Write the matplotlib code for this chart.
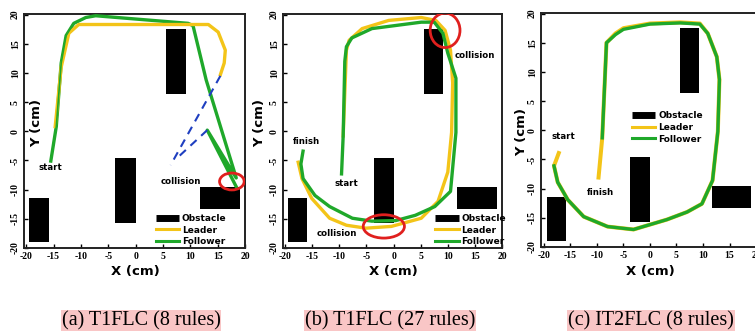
#!/usr/bin/env python3
"""Leader/follower trajectories for the three fuzzy controllers (three panels)."""
import matplotlib
matplotlib.use("Agg")
import matplotlib.pyplot as plt
from matplotlib.patches import Rectangle, Ellipse
from matplotlib.lines import Line2D

YELLOW = "#f3c418"
GREEN = "#1fa82a"
BLUE = "#1f3fc0"
RED = "#e0201e"
PINK = "#f9c6c6"

# obstacles: (x0, x1, y0, y1), same in every panel
obst_x0 = [5.6, -3.7, -19.5, 11.7]
obst_x1 = [9.2, 0.0, -15.9, 19.0]
obst_y0 = [6.4, -15.8, -19.0, -13.3]
obst_y1 = [17.6, -4.5, -11.4, -9.6]

# (a) T1FLC 8 rules
a_lead_x = [-14.7, -13.6, -12.2, -10.4, 0.0, 13.3, 15.1, 16.4, 16.2, 15.5]
a_lead_y = [0.8, 11.0, 16.8, 18.3, 18.3, 18.3, 17.0, 13.9, 11.7, 9.7]
a_foll_x = [-15.5, -14.5, -13.6, -12.7, -11.3, -9.1, -7.3, 9.6, 10.5, 12.9, 18.4, 13.1, 18.4]
a_foll_y = [-5.1, 0.8, 11.7, 16.4, 18.5, 19.5, 19.8, 18.5, 18.1, 8.8, -8.0, 0.2, -9.5]
a_dash1_x = [15.5, 6.4]
a_dash1_y = [9.5, -5.8]
a_dash2_x = [13.1, 7.8]
a_dash2_y = [0.2, -4.4]

# (b) T1FLC 27 rules
b_lead_x = [-9.3, -8.7, -8.2, -5.8, -0.9, 5.1, 7.8, 9.5, 10.5, 10.9, 10.7, 10.0, 8.2,
            5.1, -0.4, -5.1, -8.7, -11.8, -15.1, -16.9, -17.6]
b_lead_y = [-0.8, 13.9, 15.6, 17.6, 19.0, 19.5, 19.0, 17.3, 13.9, 8.3, -0.2, -7.0, -12.0,
            -14.9, -16.3, -16.6, -16.1, -14.9, -11.5, -8.1, -5.3]
b_foll_x = [-9.6, -9.3, -9.0, -8.7, -7.7, -4.0, 5.1, 7.5, 9.1, 10.0, 11.5, 11.5, 10.5,
            7.6, 4.0, 0.4, -4.0, -7.6, -11.8, -14.5, -16.7, -17.1, -16.7]
b_foll_y = [-7.3, -0.8, 12.0, 14.5, 16.0, 17.6, 18.7, 18.7, 16.8, 13.4, 9.1, -0.2, -10.3,
            -12.9, -14.4, -15.3, -15.4, -14.9, -12.9, -11.0, -8.1, -5.6, -3.4]

# (c) IT2FLC 8 rules
c_lead_x = [-9.7, -9.0, -8.2, -6.5, -5.0, 0.0, 5.7, 9.4, 10.9, 12.6, 13.1, 12.8, 11.8,
            9.8, 7.0, 3.2, -3.1, -8.0, -12.5, -15.5, -17.4, -18.1, -17.2]
c_lead_y = [-8.1, -1.3, 15.0, 16.6, 17.5, 18.3, 18.5, 18.3, 16.6, 12.6, 8.7, -0.2, -8.6,
            -12.6, -14.0, -15.3, -17.0, -16.5, -14.8, -11.9, -8.9, -6.1, -3.9]
c_foll_x = [-9.0, -8.2, -6.5, -5.0, 0.0, 5.7, 9.4, 10.9, 12.6, 13.1, 12.8, 11.8,
            9.8, 7.0, 3.2, -3.1, -8.0, -12.5, -15.5, -17.4, -18.1]
c_foll_y = [-1.3, 15.0, 16.4, 17.3, 18.2, 18.4, 18.2, 16.6, 12.6, 8.7, -0.2, -8.6,
            -12.6, -14.0, -15.3, -17.0, -16.5, -14.8, -11.9, -8.9, -6.1]

ticks = [-20, -15, -10, -5, 0, 5, 10, 15, 20]
captions = ["(a) T1FLC (8 rules)", "(b) T1FLC (27 rules)", "(c) IT2FLC (8 rules)"]

W, H = 755, 333
fig = plt.figure(figsize=(W / 100, H / 100), dpi=100)


def px_axes(left, right, top, bottom):
    return fig.add_axes([left / W, 1 - bottom / H, (right - left) / W, (bottom - top) / H])


def setup(ax, xlim=(-20.4, 19.6)):
    for x0, x1, y0, y1 in zip(obst_x0, obst_x1, obst_y0, obst_y1):
        ax.add_patch(Rectangle((x0, y0), x1 - x0, y1 - y0, color="black", lw=0, zorder=2))
    ax.set_xlim(*xlim)
    ax.set_ylim(-19.7, 20.1)
    ax.set_xticks(ticks)
    ax.set_yticks(ticks)
    ax.set_xticklabels([str(t) for t in ticks], fontsize=7, family="Liberation Serif", weight="bold")
    ax.set_yticklabels([str(t) for t in ticks], fontsize=7, family="Liberation Serif", weight="bold",
                       rotation=90, va="center")
    ax.tick_params(direction="in", length=3, width=1, pad=3)
    for s in ax.spines.values():
        s.set_linewidth(1.4)
        s.set_color("#222222")


def legend(ax, anchor):
    handles = [Line2D([], [], color="black", lw=5, solid_capstyle="butt"),
               Line2D([], [], color=YELLOW, lw=2.2),
               Line2D([], [], color=GREEN, lw=2.2)]
    leg = ax.legend(handles, ["Obstacle", "Leader", "Follower"], loc="upper left",
                    bbox_to_anchor=anchor, frameon=False, handlelength=2.6, handletextpad=0.3,
                    labelspacing=0.3, borderpad=0, prop={"size": 6.5, "weight": "bold"})
    leg.set_zorder(5)


def label(ax, x, y, s):
    ax.text(x, y, s, fontsize=6.2, weight="bold", ha="center", va="center", zorder=6)


lw = 2.4

# panel (a)
ax = px_axes(24, 245, 14, 248)
setup(ax)
ax.plot(a_foll_x, a_foll_y, color=GREEN, lw=lw, zorder=3, solid_joinstyle="round")
ax.plot(a_lead_x, a_lead_y, color=YELLOW, lw=lw, zorder=3, solid_joinstyle="round")
ax.plot(a_foll_x[:7], a_foll_y[:7], color=GREEN, lw=lw * 0.5, zorder=3)
ax.plot(a_dash1_x, a_dash1_y, color=BLUE, lw=1.5, ls=(0, (4, 3)), zorder=3)
ax.plot(a_dash2_x, a_dash2_y, color=BLUE, lw=1.5, ls=(0, (4, 3)), zorder=3)
ax.add_patch(Ellipse((17.6, -8.6), 4.5, 2.9, fill=False, ec=RED, lw=2, zorder=4))
label(ax, -15.5, -6.2, "start")
label(ax, 8.3, -8.6, "collision")
legend(ax, (0.575, 0.165))

# panel (b)
ax = px_axes(283, 502, 14, 248)
setup(ax)
ax.plot(b_lead_x, b_lead_y, color=YELLOW, lw=lw, zorder=3, solid_joinstyle="round")
ax.plot(b_foll_x, b_foll_y, color=GREEN, lw=lw, zorder=3, solid_joinstyle="round")
ax.add_patch(Ellipse((9.5, 17.3), 5.5, 5.9, fill=False, ec=RED, lw=2, zorder=4))
ax.add_patch(Ellipse((-1.8, -16.3), 7.6, 4.0, fill=False, ec=RED, lw=2, zorder=4))
label(ax, 14.9, 13.0, "collision")
label(ax, -16.0, -1.7, "finish")
label(ax, -8.7, -9.0, "start")
label(ax, -10.4, -17.5, "collision")
legend(ax, (0.675, 0.165))

# panel (c)
ax = px_axes(541, 760, 13, 247)
setup(ax, xlim=(-20.55, 20.75))
ax.plot(c_lead_x, c_lead_y, color=YELLOW, lw=lw * 1.2, zorder=3, solid_joinstyle="round")
ax.plot(c_foll_x, c_foll_y, color=GREEN, lw=lw, zorder=3, solid_joinstyle="round")
label(ax, -16.3, -1.0, "start")
label(ax, -9.3, -10.6, "finish")
legend(ax, (0.395, 0.6))

# axis titles
for xc in [135, 393, 650]:
    fig.text(xc / W, 1 - 272 / H, "X (cm)", fontsize=9.5, weight="bold", ha="center", va="center")
for xc, yc in [(37, 123), (260, 123), (522, 132)]:
    fig.text(xc / W, 1 - yc / H, "Y (cm)", fontsize=9.5, weight="bold", rotation=90,
             ha="center", va="center")

# captions
for xc, s in zip([141, 390, 651], captions):
    fig.text(xc / W, 1 - 320.5 / H, s, fontsize=14.5, family="Liberation Serif", ha="center",
             va="center", bbox=dict(boxstyle="square,pad=0.04", fc=PINK, ec="none"))

fig.savefig("out.png", dpi=100)
